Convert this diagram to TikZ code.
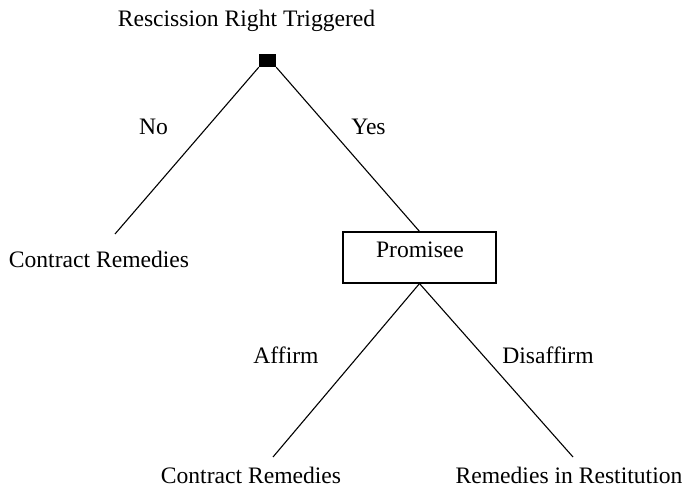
\documentclass[tikz,border=0pt]{standalone}
\usepackage{fontspec}
\setmainfont{Liberation Serif}
\begin{document}
\begin{tikzpicture}[x=1pt,y=-1pt,
  lbl/.style={anchor=base,inner sep=0pt,font=\fontsize{23.6}{28}\selectfont},
  edge/.style={line width=1.1pt}]
\useasboundingbox (0,0) rectangle (688,489);
\node[lbl] (title) at (246.5,27) {Rescission Right Triggered};
\node[fill=black,minimum width=17pt,minimum height=13pt,inner sep=0pt] (root) at (267.5,60.5) {};
\node[lbl] (no) at (153.5,135) {No};
\node[lbl] (yes) at (368.5,135) {Yes};
\node[lbl] (cr1) at (99,267) {Contract Remedies};
\coordinate (e1) at (115,234);
\node[draw,line width=1.1pt,minimum width=153pt,minimum height=51pt,inner sep=0pt] (pbox) at (419.5,257.5) {};
\node[lbl] (ptext) at (420,258) {Promisee};
\node[lbl] (aff) at (286,363) {Affirm};
\node[lbl] (dis) at (548,363) {Disaffirm};
\node[lbl] (cr2) at (251,483.5) {Contract Remedies};
\node[lbl] (rr) at (569,483.5) {Remedies in Restitution};
\coordinate (e2) at (273,457);
\coordinate (e3) at (573,457);
\draw[edge] (root.south west) -- (e1);
\draw[edge] (root.south east) -- (pbox.north);
\draw[edge] (pbox.south) -- (e2);
\draw[edge] (pbox.south) -- (e3);
\end{tikzpicture}
\end{document}
